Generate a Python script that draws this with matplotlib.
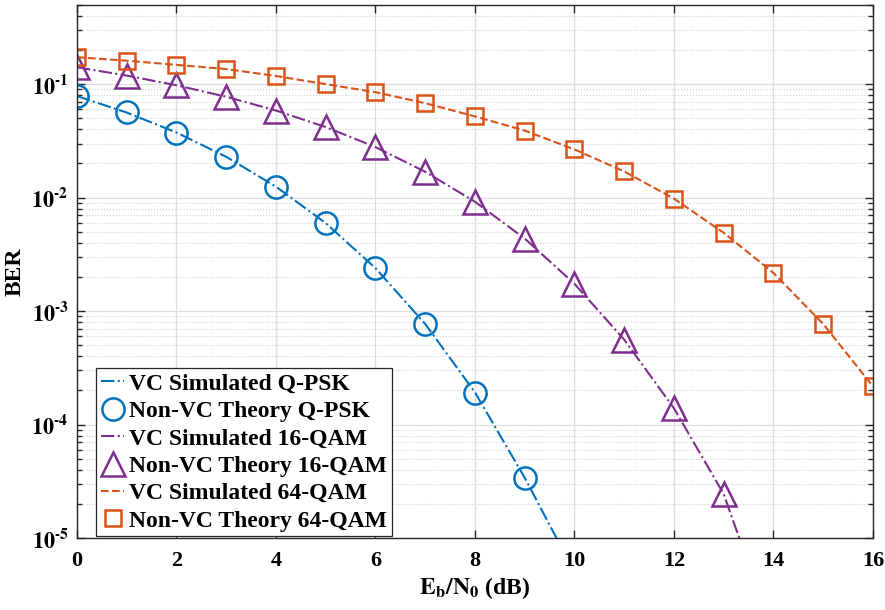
import matplotlib.pyplot as plt
import numpy as np
from matplotlib.ticker import FixedLocator, FuncFormatter, LogLocator, NullFormatter

plt.rcParams['font.family'] = ['Liberation Serif', 'DejaVu Serif']
plt.rcParams['font.weight'] = 'bold'
plt.rcParams['mathtext.fontset'] = 'stix'

# Eb/N0 points (dB)
ebno = np.arange(0, 17)

# theoretical BER, non-VC
ber_qpsk_th = [7.87e-2, 5.63e-2, 3.75e-2, 2.29e-2, 1.25e-2, 5.95e-3, 2.39e-3,
               7.73e-4, 1.91e-4, 3.36e-5, 3.87e-6]
ber_16qam_th = [1.41e-1, 1.19e-1, 9.78e-2, 7.75e-2, 5.86e-2, 4.19e-2, 2.79e-2,
                1.69e-2, 9.19e-3, 4.36e-3, 1.74e-3, 5.6e-4, 1.39e-4, 2.44e-5, 2.7e-6]
ber_64qam_th = [1.73e-1, 1.61e-1, 1.48e-1, 1.36e-1, 1.18e-1, 1.0e-1, 8.5e-2,
                6.8e-2, 5.2e-2, 3.9e-2, 2.66e-2, 1.7e-2, 9.8e-3, 4.9e-3, 2.17e-3,
                7.7e-4, 2.17e-4]

# simulated BER with VC
ber_qpsk_sim = [7.86e-2, 5.62e-2, 3.75e-2, 2.29e-2, 1.25e-2, 5.96e-3, 2.39e-3,
                7.70e-4, 1.92e-4, 3.40e-5, 5.0e-6]
ber_16qam_sim = [1.41e-1, 1.19e-1, 9.78e-2, 7.75e-2, 5.86e-2, 4.19e-2, 2.79e-2,
                 1.69e-2, 9.20e-3, 4.36e-3, 1.74e-3, 5.6e-4, 1.39e-4, 2.44e-5, 1.4e-6]
ber_64qam_sim = [1.73e-1, 1.61e-1, 1.48e-1, 1.36e-1, 1.18e-1, 1.0e-1, 8.5e-2,
                 6.8e-2, 5.2e-2, 3.9e-2, 2.66e-2, 1.7e-2, 9.8e-3, 4.9e-3, 2.17e-3,
                 7.7e-4, 2.17e-4]

c_blue = '#0072BD'
c_purple = '#7E2F8E'
c_orange = '#D95319'

fig = plt.figure(figsize=(8.85, 6.10), dpi=100)
ax = fig.add_axes([0.087, 0.118, 0.8994, 0.874])

ax.semilogy(ebno[:len(ber_qpsk_sim)], ber_qpsk_sim, '-.', color=c_blue, lw=1.5,
            label='VC Simulated Q-PSK')
ax.semilogy(ebno[:len(ber_qpsk_th)], ber_qpsk_th, 'o', color=c_blue, mfc='none',
            ms=16, mew=1.8, label='Non-VC Theory Q-PSK')
ax.semilogy(ebno[:len(ber_16qam_sim)], ber_16qam_sim, '-.', color=c_purple, lw=1.5,
            label='VC Simulated 16-QAM')
ax.semilogy(ebno[:len(ber_16qam_th)], ber_16qam_th, '^', color=c_purple, mfc='none',
            ms=17, mew=1.8, label='Non-VC Theory 16-QAM')
ax.semilogy(ebno[:len(ber_64qam_sim)], ber_64qam_sim, '--', color=c_orange, lw=1.5,
            label='VC Simulated 64-QAM')
ax.semilogy(ebno[:len(ber_64qam_th)], ber_64qam_th, 's', color=c_orange, mfc='none',
            ms=12, mew=1.8, label='Non-VC Theory 64-QAM')

ax.set_xlim(0, 16)
ax.set_ylim(1e-5, 0.5)
ax.xaxis.set_major_locator(FixedLocator(np.arange(0, 17, 2)))
ax.yaxis.set_major_locator(FixedLocator([1e-5, 1e-4, 1e-3, 1e-2, 1e-1]))
ax.yaxis.set_minor_locator(LogLocator(base=10, subs=np.arange(2, 10)))
ax.yaxis.set_minor_formatter(NullFormatter())
ax.yaxis.set_major_formatter(FuncFormatter(
    lambda v, p: r'$\mathbf{10^{\text{-}%d}}$' % abs(int(round(np.log10(v))))))

ax.grid(True, which='major', color='#dedede', lw=0.9, ls='-')
ax.grid(True, which='minor', axis='y', color='#d0d0d0', lw=0.8, ls=':')
ax.set_axisbelow(True)

ax.tick_params(which='both', direction='in', top=True, right=True,
               color='#262626', labelsize=16, width=1.0)
ax.tick_params(which='major', length=6)
ax.tick_params(axis='x', which='major', pad=9)
ax.tick_params(axis='y', which='major', pad=6)
ax.tick_params(which='minor', length=3.5)
for s in ax.spines.values():
    s.set_color('#262626')
    s.set_linewidth(1.0)

ax.set_xlabel(r'$\mathbf{E_b/N_0}$ (dB)', fontsize=17, fontweight='bold', labelpad=3)
ax.set_ylabel('BER', fontsize=17, fontweight='bold')
ax.yaxis.set_label_coords(-0.064, 0.5)

leg = ax.legend(loc='lower left', bbox_to_anchor=(0.024, 0.003), borderaxespad=0,
                frameon=True, fancybox=False, edgecolor='#262626', framealpha=1,
                handlelength=1.0, handletextpad=0.2, labelspacing=0.25,
                borderpad=0.2, prop={'weight': 'bold', 'size': 17})
leg.get_frame().set_linewidth(0.9)

fig.savefig('out.png', dpi=100)
